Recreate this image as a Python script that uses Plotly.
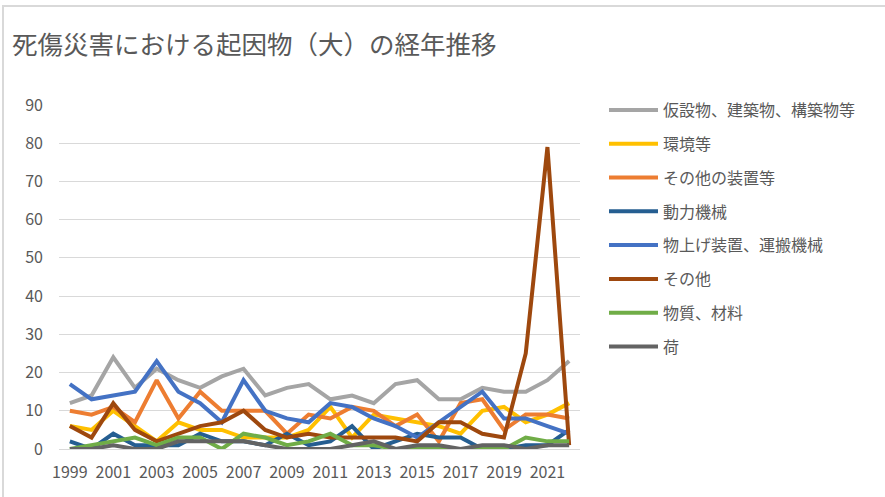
import plotly.graph_objects as go

years = list(range(1999, 2023))

temp_structures = [12, 14, 24, 16, 21, 18, 16, 19, 21, 14, 16, 17, 13, 14, 12, 17, 18, 13, 13, 16, 15, 15, 18, 23]
environment = [6, 5, 10, 6, 2, 7, 5, 5, 3, 3, 3, 5, 11, 3, 9, 8, 7, 6, 4, 10, 11, 7, 9, 12]
other_devices = [10, 9, 11, 7, 18, 8, 15, 10, 10, 10, 4, 9, 8, 11, 10, 6, 9, 2, 12, 13, 5, 9, 9, 8]
power_machines = [2, 0, 4, 1, 1, 1, 4, 2, 2, 1, 4, 1, 2, 6, 0, 2, 4, 3, 3, 0, 0, 1, 1, 5]
lifting_transport = [17, 13, 14, 15, 23, 15, 12, 7, 18, 10, 8, 7, 12, 11, 8, 6, 3, 7, 11, 15, 8, 8, 6, 4]
others = [6, 3, 12, 5, 2, 4, 6, 7, 10, 5, 3, 4, 3, 3, 3, 3, 2, 7, 7, 4, 3, 25, 79, 1]
materials = [0, 1, 2, 3, 1, 3, 3, 0, 4, 3, 1, 2, 4, 1, 1, 0, 0, 0, 0, 0, 0, 3, 2, 2]
loads = [0, 0, 1, 0, 0, 2, 2, 2, 2, 1, 0, 0, 0, 1, 2, 0, 1, 1, 0, 1, 1, 0, 1, 1]

series_names = ["仮設物、建築物、構築物等", "環境等", "その他の装置等", "動力機械",
                "物上げ装置、運搬機械", "その他", "物質、材料", "荷"]
series_values = [temp_structures, environment, other_devices, power_machines,
                 lifting_transport, others, materials, loads]
series_colors = ["#A5A5A5", "#FFC000", "#ED7D31", "#255E91",
                 "#4472C4", "#9E480E", "#70AD47", "#636363"]

x_tick_vals = list(range(1999, 2023, 2))
x_tick_text = [str(y) for y in x_tick_vals]
y_tick_vals = list(range(0, 100, 10))

fig = go.Figure()
for i, (name, vals, col) in enumerate(zip(series_names, series_values, series_colors)):
    fig.add_trace(go.Scatter(
        x=years, y=vals, name=name, mode="lines",
        line=dict(color=col, width=4, shape="linear"),
        legendgroup=f"g{i}",
    ))

font_family = "Noto Sans CJK JP, Noto Sans, sans-serif"
W, H = 885, 497
L, R, T, B = 59, 580, 105, 449

fig.update_layout(
    width=W, height=H,
    margin=dict(l=L, r=W - R, t=T, b=H - B, autoexpand=False),
    paper_bgcolor="white", plot_bgcolor="white",
    font=dict(family=font_family, color="#595959", size=16),
    title=dict(text="死傷災害における起因物（大）の経年推移",
               xref="container", yref="container",
               x=12 / W, xanchor="left", y=1 - 45 / H, yanchor="middle",
               pad=dict(l=0, r=0, t=0, b=0),
               font=dict(size=25.5, color="#595959", family=font_family)),
    xaxis=dict(range=[1998.5, 2022.5], tickmode="array", tickvals=x_tick_vals,
               ticktext=x_tick_text, showgrid=False, zeroline=False,
               showline=True, linecolor="#D9D9D9", linewidth=1, ticks="",
               ticklabelstandoff=9,
               tickfont=dict(size=16, color="#595959")),
    yaxis=dict(range=[0, 90], tickmode="array", tickvals=y_tick_vals,
               showgrid=True, gridcolor="#D9D9D9", gridwidth=1, zeroline=False,
               ticks="", ticklen=0, ticklabelstandoff=15,
               tickfont=dict(size=16, color="#595959")),
    legend=dict(xref="container", yref="container",
                x=604 / W, xanchor="left", y=1 - 93 / H, yanchor="top",
                maxheight=400,
                font=dict(size=16, color="#595959", family=font_family),
                tracegroupgap=10, itemwidth=49, bgcolor="rgba(0,0,0,0)"),
    showlegend=True,
)

fig.add_shape(type="rect", xref="paper", yref="paper",
              x0=(3 - L) / (R - L), x1=(W + 20 - L) / (R - L),
              y0=(B - (H + 20)) / (B - T), y1=(B - 6) / (B - T),
              line=dict(color="#D9D9D9", width=2), fillcolor="rgba(0,0,0,0)",
              layer="above")

fig.write_html("out.html",
               config={"displayModeBar": False},
               post_script="document.body.style.margin='0';document.body.style.padding='0';")
